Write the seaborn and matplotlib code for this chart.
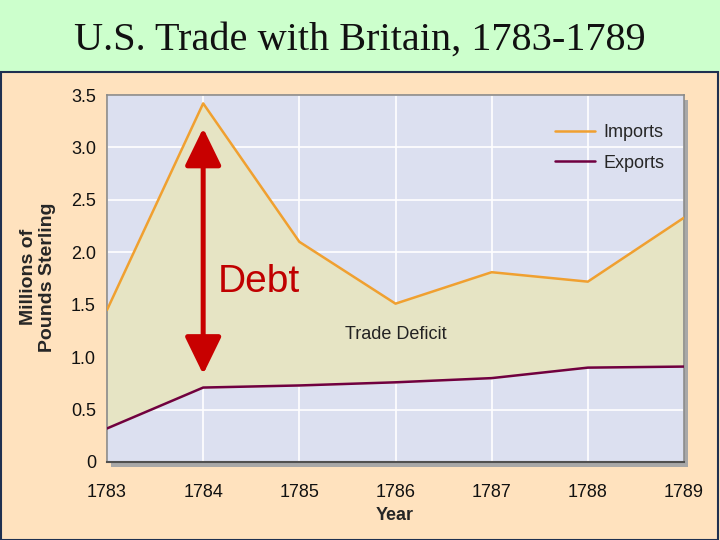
import pandas as pd
import seaborn as sns
import matplotlib.pyplot as plt
from matplotlib.patches import Rectangle, FancyArrowPatch

# values (millions of pounds sterling)
years = [1783, 1784, 1785, 1786, 1787, 1788, 1789]
imports = [1.45, 3.42, 2.10, 1.51, 1.81, 1.72, 2.33]
exports = [0.32, 0.71, 0.73, 0.76, 0.80, 0.90, 0.91]
y_ticks = [0, 0.5, 1.0, 1.5, 2.0, 2.5, 3.0, 3.5]
y_tick_labels = ["0", "0.5", "1.0", "1.5", "2.0", "2.5", "3.0", "3.5"]

df = pd.DataFrame({"Year": years * 2,
                   "Value": imports + exports,
                   "Series": ["Imports"] * len(years) + ["Exports"] * len(years)})

sns.set_style("white", {"axes.facecolor": "#DCE0F0"})
plt.rcParams["font.family"] = ["Liberation Sans", "DejaVu Sans"]

fig = plt.figure(figsize=(7.2, 5.4), dpi=100)
fig.patch.set_facecolor("#FFE2BE")

# header band and panel border
fig.patches.append(Rectangle((0, 1 - 72 / 540), 1, 72 / 540, transform=fig.transFigure,
                             facecolor="#CCFFCC", edgecolor="none", zorder=-3))
fig.patches.append(Rectangle((0.002, 0), 0.995, 1 - 72 / 540, transform=fig.transFigure,
                             facecolor="none", edgecolor="#1F3050", lw=1.5, zorder=-2))
# plot area shadow
fig.patches.append(Rectangle((111 / 720, 1 - 467 / 540), 577 / 720, 367 / 540,
                             transform=fig.transFigure, facecolor="#A8A8A8",
                             edgecolor="none", zorder=-1))

ax = fig.add_axes([107 / 720, 1 - 462 / 540, 577 / 720, 367 / 540])

ax.fill_between(years, exports, imports, color="#E6E4C4", zorder=1)
sns.lineplot(data=df, x="Year", y="Value", hue="Series",
             palette={"Imports": "#F0A030", "Exports": "#700040"},
             linewidth=1.8, ax=ax, zorder=3)

ax.set_xlim(1783, 1789)
ax.set_ylim(0, 3.5)
ax.set_xticks(years)
ax.set_xticklabels([str(y) for y in years])
ax.set_yticks(y_ticks)
ax.set_yticklabels(y_tick_labels)
ax.tick_params(axis="both", length=0, labelsize=13, colors="#111111")
ax.tick_params(axis="x", pad=16)
ax.tick_params(axis="y", pad=8)
ax.grid(True, color="white", lw=1.2, zorder=0)
ax.set_axisbelow(True)
ax.set_xlabel("")
ax.set_ylabel("")
for side in ["left", "right", "top"]:
    ax.spines[side].set_color("#8A8A8A")
    ax.spines[side].set_linewidth(1.2)
ax.spines["bottom"].set_color("#505050")
ax.spines["bottom"].set_linewidth(1.5)

leg = ax.legend(loc="upper right", bbox_to_anchor=(0.995, 0.965), frameon=False,
                fontsize=13, handlelength=2.2, handletextpad=0.5, labelspacing=0.75)
leg.set_title(None)

# debt arrow and labels
arrow = FancyArrowPatch((1784, 0.81), (1784, 3.21),
                        arrowstyle="<|-|>,head_length=1.15,head_width=0.56",
                        mutation_scale=20, color="#C80000", lw=3.6, zorder=5)
ax.add_patch(arrow)
ax.text(1784.15, 1.72, "Debt", fontsize=28, color="#C00000", va="center", ha="left", zorder=6)
ax.text(1786, 1.22, "Trade Deficit", fontsize=13, color="#222222", ha="center", va="center",
        zorder=6)

fig.text(0.5, 1 - 40 / 540, "U.S. Trade with Britain, 1783-1789", ha="center", va="center",
         fontsize=29, family=["Liberation Serif", "DejaVu Serif"], color="#111111")
fig.text(38 / 720, 1 - 277 / 540, "Millions of\nPounds Sterling", rotation=90, ha="center",
         va="center", fontsize=14, fontweight="bold", linespacing=1.15)
fig.text(395 / 720, 1 - 516 / 540, "Year", ha="center", va="center", fontsize=13,
         fontweight="bold")

fig.savefig("out.png", dpi=100, facecolor=fig.get_facecolor())
